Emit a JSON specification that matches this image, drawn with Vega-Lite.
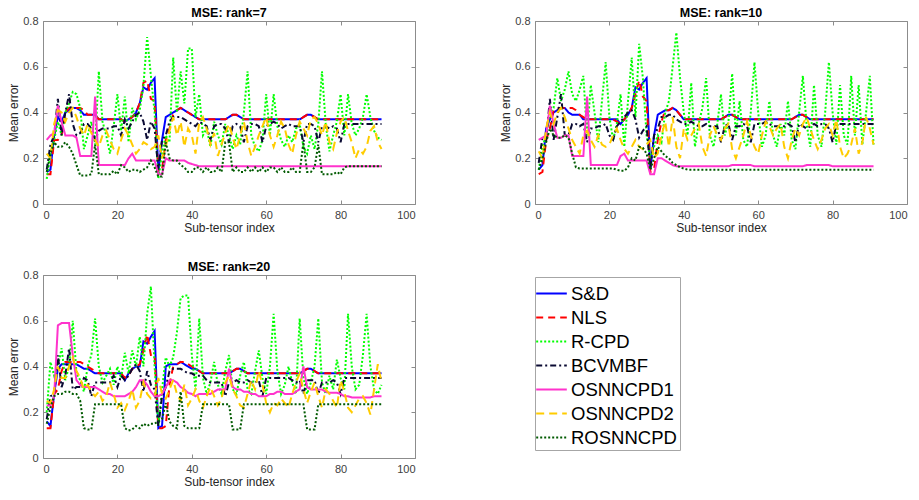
{
"$schema": "https://vega.github.io/schema/vega-lite/v6.json",
"background": "white",
"padding": {"left": 7, "top": 6, "right": 5, "bottom": 5},
"spacing": 26,
"config": {
"font": "Liberation Sans",
"view": {"stroke": "#8c8c8c", "strokeWidth": 1},
"axis": {"grid": false, "domain": false, "ticks": true, "tickSize": -4, "tickColor": "#8c8c8c", "labelFont": "Liberation Sans", "labelFontSize": 11, "labelColor": "#404040", "labelPadding": 9, "titleFont": "Liberation Sans", "titleFontSize": 12, "titleFontWeight": "normal", "titleColor": "#262626"},
"axisY": {"titlePadding": 2},
"axisX": {"titlePadding": 2},
"title": {"font": "Liberation Sans", "fontSize": 12.5, "fontWeight": "bold", "color": "#000000", "offset": -4},
"legend": {"orient": "none", "legendX": 492, "legendY": 256, "symbolType": "M-1.25,0H1.25", "symbolSize": 600, "symbolStrokeWidth": 2, "labelFont": "Liberation Sans", "labelFontSize": 18.5, "labelColor": "#000000", "strokeColor": "#a6a6a6", "fillColor": "white", "padding": 3, "rowPadding": 1, "labelOffset": 6}
},
"datasets": {
"r7": [
{"x":1,"a":0.14,"b":0.13,"c":0.11,"d":0.15,"e":0.28,"f":0.22,"g":0.14},
{"x":2,"a":0.15,"b":0.13,"c":0.22,"d":0.26,"e":0.30,"f":0.20,"g":0.22},
{"x":3,"a":0.30,"b":0.28,"c":0.28,"d":0.30,"e":0.31,"f":0.35,"g":0.27},
{"x":4,"a":0.38,"b":0.28,"c":0.36,"d":0.46,"e":0.43,"f":0.41,"g":0.25},
{"x":5,"a":0.36,"b":0.30,"c":0.30,"d":0.30,"e":0.36,"f":0.40,"g":0.25},
{"x":6,"a":0.40,"b":0.40,"c":0.40,"d":0.40,"e":0.30,"f":0.36,"g":0.27},
{"x":7,"a":0.41,"b":0.42,"c":0.44,"d":0.48,"e":0.30,"f":0.40,"g":0.25},
{"x":8,"a":0.42,"b":0.42,"c":0.49,"d":0.35,"e":0.30,"f":0.42,"g":0.22},
{"x":9,"a":0.42,"b":0.42,"c":0.48,"d":0.30,"e":0.29,"f":0.38,"g":0.17},
{"x":10,"a":0.41,"b":0.42,"c":0.42,"d":0.31,"e":0.21,"f":0.33,"g":0.125},
{"x":11,"a":0.39,"b":0.41,"c":0.24,"d":0.35,"e":0.21,"f":0.30,"g":0.125},
{"x":12,"a":0.39,"b":0.39,"c":0.30,"d":0.35,"e":0.21,"f":0.35,"g":0.125},
{"x":13,"a":0.39,"b":0.39,"c":0.36,"d":0.33,"e":0.21,"f":0.31,"g":0.13},
{"x":14,"a":0.39,"b":0.39,"c":0.26,"d":0.28,"e":0.47,"f":0.28,"g":0.26},
{"x":15,"a":0.37,"b":0.37,"c":0.58,"d":0.32,"e":0.17,"f":0.25,"g":0.13},
{"x":16,"a":0.37,"b":0.37,"c":0.36,"d":0.33,"e":0.17,"f":0.30,"g":0.13},
{"x":17,"a":0.37,"b":0.37,"c":0.30,"d":0.33,"e":0.17,"f":0.32,"g":0.13},
{"x":18,"a":0.37,"b":0.37,"c":0.22,"d":0.33,"e":0.17,"f":0.28,"g":0.13},
{"x":19,"a":0.37,"b":0.37,"c":0.34,"d":0.34,"e":0.17,"f":0.24,"g":0.145},
{"x":20,"a":0.37,"b":0.37,"c":0.48,"d":0.34,"e":0.17,"f":0.22,"g":0.13},
{"x":21,"a":0.37,"b":0.37,"c":0.32,"d":0.30,"e":0.17,"f":0.28,"g":0.17},
{"x":22,"a":0.36,"b":0.36,"c":0.47,"d":0.37,"e":0.17,"f":0.33,"g":0.16},
{"x":23,"a":0.37,"b":0.37,"c":0.27,"d":0.33,"e":0.20,"f":0.30,"g":0.14},
{"x":24,"a":0.38,"b":0.38,"c":0.42,"d":0.36,"e":0.22,"f":0.26,"g":0.15},
{"x":25,"a":0.40,"b":0.40,"c":0.37,"d":0.39,"e":0.19,"f":0.22,"g":0.15},
{"x":26,"a":0.44,"b":0.44,"c":0.41,"d":0.40,"e":0.19,"f":0.24,"g":0.14},
{"x":27,"a":0.51,"b":0.53,"c":0.52,"d":0.36,"e":0.19,"f":0.27,"g":0.15},
{"x":28,"a":0.50,"b":0.54,"c":0.73,"d":0.28,"e":0.19,"f":0.26,"g":0.16},
{"x":29,"a":0.53,"b":0.46,"c":0.56,"d":0.36,"e":0.19,"f":0.24,"g":0.19},
{"x":30,"a":0.55,"b":0.45,"c":0.40,"d":0.33,"e":0.19,"f":0.25,"g":0.16},
{"x":31,"a":0.14,"b":0.14,"c":0.11,"d":0.15,"e":0.13,"f":0.30,"g":0.12},
{"x":32,"a":0.28,"b":0.15,"c":0.22,"d":0.28,"e":0.13,"f":0.20,"g":0.12},
{"x":33,"a":0.38,"b":0.28,"c":0.30,"d":0.30,"e":0.20,"f":0.25,"g":0.27},
{"x":34,"a":0.39,"b":0.33,"c":0.27,"d":0.36,"e":0.19,"f":0.32,"g":0.20},
{"x":35,"a":0.40,"b":0.39,"c":0.64,"d":0.38,"e":0.19,"f":0.38,"g":0.19},
{"x":36,"a":0.41,"b":0.41,"c":0.40,"d":0.38,"e":0.19,"f":0.30,"g":0.19},
{"x":37,"a":0.42,"b":0.42,"c":0.58,"d":0.38,"e":0.19,"f":0.36,"g":0.17},
{"x":38,"a":0.41,"b":0.41,"c":0.44,"d":0.37,"e":0.19,"f":0.25,"g":0.16},
{"x":39,"a":0.40,"b":0.40,"c":0.68,"d":0.36,"e":0.18,"f":0.33,"g":0.14},
{"x":40,"a":0.39,"b":0.39,"c":0.68,"d":0.35,"e":0.175,"f":0.30,"g":0.14},
{"x":41,"a":0.38,"b":0.38,"c":0.38,"d":0.34,"e":0.17,"f":0.22,"g":0.16},
{"x":42,"a":0.37,"b":0.37,"c":0.48,"d":0.36,"e":0.165,"f":0.36,"g":0.16},
{"x":43,"a":0.37,"b":0.37,"c":0.30,"d":0.35,"e":0.165,"f":0.38,"g":0.14},
{"x":44,"a":0.37,"b":0.37,"c":0.33,"d":0.34,"e":0.165,"f":0.33,"g":0.16},
{"x":45,"a":0.37,"b":0.37,"c":0.25,"d":0.28,"e":0.165,"f":0.26,"g":0.14},
{"x":46,"a":0.37,"b":0.37,"c":0.36,"d":0.34,"e":0.165,"f":0.31,"g":0.14},
{"x":47,"a":0.37,"b":0.37,"c":0.30,"d":0.35,"e":0.165,"f":0.21,"g":0.16},
{"x":48,"a":0.37,"b":0.37,"c":0.26,"d":0.35,"e":0.165,"f":0.26,"g":0.14},
{"x":49,"a":0.37,"b":0.37,"c":0.35,"d":0.33,"e":0.165,"f":0.31,"g":0.27},
{"x":50,"a":0.38,"b":0.38,"c":0.30,"d":0.27,"e":0.165,"f":0.35,"g":0.27},
{"x":51,"a":0.39,"b":0.39,"c":0.24,"d":0.34,"e":0.165,"f":0.29,"g":0.14},
{"x":52,"a":0.39,"b":0.39,"c":0.30,"d":0.35,"e":0.165,"f":0.24,"g":0.16},
{"x":53,"a":0.38,"b":0.38,"c":0.26,"d":0.34,"e":0.165,"f":0.30,"g":0.14},
{"x":54,"a":0.37,"b":0.37,"c":0.40,"d":0.27,"e":0.165,"f":0.36,"g":0.14},
{"x":55,"a":0.37,"b":0.37,"c":0.58,"d":0.34,"e":0.165,"f":0.27,"g":0.16},
{"x":56,"a":0.37,"b":0.37,"c":0.30,"d":0.35,"e":0.165,"f":0.21,"g":0.14},
{"x":57,"a":0.37,"b":0.37,"c":0.25,"d":0.35,"e":0.165,"f":0.25,"g":0.16},
{"x":58,"a":0.37,"b":0.37,"c":0.23,"d":0.34,"e":0.165,"f":0.30,"g":0.14},
{"x":59,"a":0.37,"b":0.37,"c":0.28,"d":0.27,"e":0.165,"f":0.34,"g":0.16},
{"x":60,"a":0.37,"b":0.37,"c":0.48,"d":0.34,"e":0.165,"f":0.38,"g":0.14},
{"x":61,"a":0.37,"b":0.37,"c":0.30,"d":0.35,"e":0.165,"f":0.30,"g":0.16},
{"x":62,"a":0.37,"b":0.37,"c":0.48,"d":0.36,"e":0.165,"f":0.25,"g":0.16},
{"x":63,"a":0.37,"b":0.37,"c":0.34,"d":0.35,"e":0.165,"f":0.30,"g":0.14},
{"x":64,"a":0.37,"b":0.37,"c":0.28,"d":0.33,"e":0.165,"f":0.36,"g":0.16},
{"x":65,"a":0.37,"b":0.37,"c":0.25,"d":0.34,"e":0.165,"f":0.33,"g":0.14},
{"x":66,"a":0.37,"b":0.37,"c":0.30,"d":0.35,"e":0.165,"f":0.26,"g":0.14},
{"x":67,"a":0.37,"b":0.37,"c":0.27,"d":0.34,"e":0.165,"f":0.22,"g":0.16},
{"x":68,"a":0.37,"b":0.37,"c":0.33,"d":0.34,"e":0.165,"f":0.30,"g":0.14},
{"x":69,"a":0.37,"b":0.37,"c":0.35,"d":0.34,"e":0.165,"f":0.36,"g":0.14},
{"x":70,"a":0.38,"b":0.38,"c":0.25,"d":0.27,"e":0.165,"f":0.33,"g":0.27},
{"x":71,"a":0.39,"b":0.39,"c":0.22,"d":0.35,"e":0.165,"f":0.30,"g":0.14},
{"x":72,"a":0.39,"b":0.39,"c":0.30,"d":0.35,"e":0.165,"f":0.37,"g":0.14},
{"x":73,"a":0.38,"b":0.38,"c":0.24,"d":0.34,"e":0.165,"f":0.38,"g":0.16},
{"x":74,"a":0.37,"b":0.37,"c":0.35,"d":0.27,"e":0.165,"f":0.35,"g":0.26},
{"x":75,"a":0.37,"b":0.37,"c":0.58,"d":0.34,"e":0.165,"f":0.30,"g":0.13},
{"x":76,"a":0.37,"b":0.37,"c":0.35,"d":0.34,"e":0.165,"f":0.36,"g":0.13},
{"x":77,"a":0.37,"b":0.37,"c":0.23,"d":0.33,"e":0.165,"f":0.27,"g":0.13},
{"x":78,"a":0.37,"b":0.37,"c":0.30,"d":0.34,"e":0.165,"f":0.24,"g":0.13},
{"x":79,"a":0.37,"b":0.37,"c":0.36,"d":0.33,"e":0.165,"f":0.31,"g":0.14},
{"x":80,"a":0.37,"b":0.37,"c":0.48,"d":0.27,"e":0.165,"f":0.36,"g":0.13},
{"x":81,"a":0.37,"b":0.37,"c":0.30,"d":0.35,"e":0.165,"f":0.38,"g":0.16},
{"x":82,"a":0.37,"b":0.37,"c":0.48,"d":0.35,"e":0.165,"f":0.32,"g":0.165},
{"x":83,"a":0.37,"b":0.37,"c":0.35,"d":0.35,"e":0.165,"f":0.27,"g":0.165},
{"x":84,"a":0.37,"b":0.37,"c":0.30,"d":0.35,"e":0.165,"f":0.20,"g":0.165},
{"x":85,"a":0.37,"b":0.37,"c":0.33,"d":0.35,"e":0.165,"f":0.24,"g":0.165},
{"x":86,"a":0.37,"b":0.37,"c":0.38,"d":0.35,"e":0.165,"f":0.22,"g":0.165},
{"x":87,"a":0.37,"b":0.37,"c":0.48,"d":0.35,"e":0.165,"f":0.25,"g":0.165},
{"x":88,"a":0.37,"b":0.37,"c":0.38,"d":0.35,"e":0.165,"f":0.32,"g":0.165},
{"x":89,"a":0.37,"b":0.37,"c":0.32,"d":0.35,"e":0.165,"f":0.34,"g":0.165},
{"x":90,"a":0.37,"b":0.37,"c":0.29,"d":0.35,"e":0.165,"f":0.27,"g":0.165},
{"x":91,"a":0.37,"b":0.37,"c":0.28,"d":0.35,"e":0.165,"f":0.24,"g":0.165}
],
"r10": [
{"x":1,"a":0.15,"b":0.13,"c":0.15,"d":0.18,"e":0.28,"f":0.23,"g":0.15},
{"x":2,"a":0.17,"b":0.14,"c":0.25,"d":0.29,"e":0.29,"f":0.20,"g":0.20},
{"x":3,"a":0.33,"b":0.28,"c":0.30,"d":0.28,"e":0.30,"f":0.33,"g":0.27},
{"x":4,"a":0.37,"b":0.33,"c":0.40,"d":0.46,"e":0.43,"f":0.40,"g":0.33},
{"x":5,"a":0.40,"b":0.41,"c":0.42,"d":0.28,"e":0.35,"f":0.35,"g":0.30},
{"x":6,"a":0.41,"b":0.42,"c":0.55,"d":0.38,"e":0.29,"f":0.40,"g":0.29},
{"x":7,"a":0.42,"b":0.42,"c":0.45,"d":0.48,"e":0.29,"f":0.42,"g":0.29},
{"x":8,"a":0.42,"b":0.42,"c":0.50,"d":0.30,"e":0.30,"f":0.38,"g":0.30},
{"x":9,"a":0.40,"b":0.42,"c":0.58,"d":0.30,"e":0.30,"f":0.33,"g":0.29},
{"x":10,"a":0.39,"b":0.42,"c":0.48,"d":0.35,"e":0.21,"f":0.28,"g":0.22},
{"x":11,"a":0.39,"b":0.41,"c":0.45,"d":0.35,"e":0.21,"f":0.25,"g":0.16},
{"x":12,"a":0.39,"b":0.39,"c":0.50,"d":0.34,"e":0.21,"f":0.22,"g":0.155},
{"x":13,"a":0.37,"b":0.38,"c":0.56,"d":0.35,"e":0.21,"f":0.30,"g":0.155},
{"x":14,"a":0.37,"b":0.37,"c":0.30,"d":0.27,"e":0.47,"f":0.32,"g":0.155},
{"x":15,"a":0.37,"b":0.37,"c":0.52,"d":0.33,"e":0.17,"f":0.28,"g":0.155},
{"x":16,"a":0.37,"b":0.37,"c":0.40,"d":0.33,"e":0.17,"f":0.25,"g":0.155},
{"x":17,"a":0.37,"b":0.37,"c":0.27,"d":0.34,"e":0.17,"f":0.30,"g":0.155},
{"x":18,"a":0.37,"b":0.37,"c":0.45,"d":0.34,"e":0.17,"f":0.26,"g":0.155},
{"x":19,"a":0.37,"b":0.37,"c":0.62,"d":0.35,"e":0.17,"f":0.25,"g":0.155},
{"x":20,"a":0.37,"b":0.37,"c":0.38,"d":0.30,"e":0.17,"f":0.26,"g":0.155},
{"x":21,"a":0.37,"b":0.37,"c":0.28,"d":0.28,"e":0.17,"f":0.30,"g":0.155},
{"x":22,"a":0.37,"b":0.36,"c":0.35,"d":0.34,"e":0.17,"f":0.33,"g":0.15},
{"x":23,"a":0.35,"b":0.35,"c":0.48,"d":0.36,"e":0.21,"f":0.28,"g":0.145},
{"x":24,"a":0.37,"b":0.37,"c":0.25,"d":0.38,"e":0.22,"f":0.24,"g":0.145},
{"x":25,"a":0.39,"b":0.39,"c":0.45,"d":0.40,"e":0.19,"f":0.22,"g":0.16},
{"x":26,"a":0.42,"b":0.42,"c":0.64,"d":0.41,"e":0.19,"f":0.25,"g":0.20},
{"x":27,"a":0.51,"b":0.48,"c":0.38,"d":0.37,"e":0.19,"f":0.28,"g":0.19},
{"x":28,"a":0.50,"b":0.54,"c":0.70,"d":0.29,"e":0.19,"f":0.25,"g":0.25},
{"x":29,"a":0.53,"b":0.47,"c":0.55,"d":0.32,"e":0.19,"f":0.24,"g":0.245},
{"x":30,"a":0.55,"b":0.45,"c":0.30,"d":0.34,"e":0.19,"f":0.26,"g":0.22},
{"x":31,"a":0.15,"b":0.14,"c":0.20,"d":0.15,"e":0.13,"f":0.28,"g":0.15},
{"x":32,"a":0.30,"b":0.15,"c":0.25,"d":0.30,"e":0.13,"f":0.20,"g":0.20},
{"x":33,"a":0.39,"b":0.28,"c":0.30,"d":0.33,"e":0.20,"f":0.22,"g":0.25},
{"x":34,"a":0.40,"b":0.36,"c":0.27,"d":0.38,"e":0.20,"f":0.30,"g":0.23},
{"x":35,"a":0.41,"b":0.41,"c":0.40,"d":0.38,"e":0.19,"f":0.36,"g":0.21},
{"x":36,"a":0.41,"b":0.41,"c":0.45,"d":0.39,"e":0.18,"f":0.25,"g":0.20},
{"x":37,"a":0.42,"b":0.42,"c":0.60,"d":0.39,"e":0.17,"f":0.38,"g":0.18},
{"x":38,"a":0.41,"b":0.41,"c":0.75,"d":0.37,"e":0.165,"f":0.25,"g":0.17},
{"x":39,"a":0.39,"b":0.39,"c":0.55,"d":0.36,"e":0.165,"f":0.20,"g":0.16},
{"x":40,"a":0.37,"b":0.37,"c":0.40,"d":0.35,"e":0.165,"f":0.33,"g":0.155},
{"x":41,"a":0.37,"b":0.37,"c":0.30,"d":0.35,"e":0.165,"f":0.28,"g":0.15},
{"x":42,"a":0.37,"b":0.37,"c":0.53,"d":0.36,"e":0.165,"f":0.30,"g":0.15},
{"x":43,"a":0.37,"b":0.37,"c":0.25,"d":0.35,"e":0.165,"f":0.33,"g":0.15},
{"x":44,"a":0.37,"b":0.37,"c":0.35,"d":0.34,"e":0.165,"f":0.35,"g":0.15},
{"x":45,"a":0.37,"b":0.37,"c":0.42,"d":0.34,"e":0.165,"f":0.25,"g":0.15},
{"x":46,"a":0.37,"b":0.37,"c":0.55,"d":0.35,"e":0.165,"f":0.21,"g":0.15},
{"x":47,"a":0.37,"b":0.37,"c":0.30,"d":0.34,"e":0.165,"f":0.30,"g":0.15},
{"x":48,"a":0.37,"b":0.37,"c":0.25,"d":0.34,"e":0.165,"f":0.34,"g":0.15},
{"x":49,"a":0.37,"b":0.37,"c":0.35,"d":0.34,"e":0.165,"f":0.30,"g":0.15},
{"x":50,"a":0.37,"b":0.37,"c":0.48,"d":0.27,"e":0.165,"f":0.28,"g":0.15},
{"x":51,"a":0.38,"b":0.38,"c":0.30,"d":0.34,"e":0.165,"f":0.33,"g":0.15},
{"x":52,"a":0.39,"b":0.39,"c":0.36,"d":0.35,"e":0.165,"f":0.35,"g":0.15},
{"x":53,"a":0.39,"b":0.39,"c":0.57,"d":0.28,"e":0.17,"f":0.24,"g":0.15},
{"x":54,"a":0.38,"b":0.38,"c":0.30,"d":0.34,"e":0.17,"f":0.20,"g":0.15},
{"x":55,"a":0.37,"b":0.37,"c":0.45,"d":0.34,"e":0.17,"f":0.25,"g":0.15},
{"x":56,"a":0.37,"b":0.37,"c":0.28,"d":0.35,"e":0.17,"f":0.30,"g":0.15},
{"x":57,"a":0.37,"b":0.37,"c":0.25,"d":0.34,"e":0.17,"f":0.36,"g":0.15},
{"x":58,"a":0.37,"b":0.37,"c":0.40,"d":0.27,"e":0.17,"f":0.30,"g":0.15},
{"x":59,"a":0.37,"b":0.37,"c":0.62,"d":0.35,"e":0.165,"f":0.25,"g":0.15},
{"x":60,"a":0.37,"b":0.37,"c":0.40,"d":0.35,"e":0.165,"f":0.22,"g":0.15},
{"x":61,"a":0.37,"b":0.37,"c":0.25,"d":0.35,"e":0.165,"f":0.30,"g":0.15},
{"x":62,"a":0.37,"b":0.37,"c":0.30,"d":0.36,"e":0.165,"f":0.36,"g":0.15},
{"x":63,"a":0.37,"b":0.37,"c":0.45,"d":0.35,"e":0.165,"f":0.34,"g":0.15},
{"x":64,"a":0.37,"b":0.37,"c":0.30,"d":0.34,"e":0.165,"f":0.30,"g":0.15},
{"x":65,"a":0.37,"b":0.37,"c":0.25,"d":0.34,"e":0.165,"f":0.33,"g":0.15},
{"x":66,"a":0.37,"b":0.37,"c":0.35,"d":0.34,"e":0.165,"f":0.35,"g":0.15},
{"x":67,"a":0.37,"b":0.37,"c":0.30,"d":0.34,"e":0.165,"f":0.25,"g":0.15},
{"x":68,"a":0.37,"b":0.37,"c":0.45,"d":0.35,"e":0.165,"f":0.20,"g":0.15},
{"x":69,"a":0.37,"b":0.37,"c":0.28,"d":0.34,"e":0.165,"f":0.28,"g":0.15},
{"x":70,"a":0.38,"b":0.38,"c":0.24,"d":0.27,"e":0.165,"f":0.33,"g":0.15},
{"x":71,"a":0.39,"b":0.39,"c":0.40,"d":0.35,"e":0.165,"f":0.30,"g":0.15},
{"x":72,"a":0.39,"b":0.39,"c":0.56,"d":0.34,"e":0.165,"f":0.35,"g":0.15},
{"x":73,"a":0.38,"b":0.38,"c":0.35,"d":0.33,"e":0.17,"f":0.38,"g":0.15},
{"x":74,"a":0.37,"b":0.37,"c":0.25,"d":0.34,"e":0.17,"f":0.33,"g":0.15},
{"x":75,"a":0.37,"b":0.37,"c":0.52,"d":0.35,"e":0.17,"f":0.28,"g":0.15},
{"x":76,"a":0.37,"b":0.37,"c":0.30,"d":0.34,"e":0.17,"f":0.24,"g":0.15},
{"x":77,"a":0.37,"b":0.37,"c":0.25,"d":0.35,"e":0.17,"f":0.28,"g":0.15},
{"x":78,"a":0.37,"b":0.37,"c":0.40,"d":0.35,"e":0.17,"f":0.33,"g":0.15},
{"x":79,"a":0.37,"b":0.37,"c":0.62,"d":0.33,"e":0.17,"f":0.35,"g":0.15},
{"x":80,"a":0.37,"b":0.37,"c":0.40,"d":0.27,"e":0.165,"f":0.30,"g":0.15},
{"x":81,"a":0.37,"b":0.37,"c":0.26,"d":0.35,"e":0.165,"f":0.37,"g":0.15},
{"x":82,"a":0.37,"b":0.37,"c":0.52,"d":0.35,"e":0.165,"f":0.25,"g":0.15},
{"x":83,"a":0.37,"b":0.37,"c":0.30,"d":0.35,"e":0.165,"f":0.20,"g":0.15},
{"x":84,"a":0.37,"b":0.37,"c":0.26,"d":0.35,"e":0.165,"f":0.22,"g":0.15},
{"x":85,"a":0.37,"b":0.37,"c":0.56,"d":0.35,"e":0.165,"f":0.26,"g":0.15},
{"x":86,"a":0.37,"b":0.37,"c":0.30,"d":0.35,"e":0.165,"f":0.33,"g":0.15},
{"x":87,"a":0.37,"b":0.37,"c":0.52,"d":0.35,"e":0.165,"f":0.22,"g":0.15},
{"x":88,"a":0.37,"b":0.37,"c":0.26,"d":0.35,"e":0.165,"f":0.27,"g":0.15},
{"x":89,"a":0.37,"b":0.37,"c":0.40,"d":0.35,"e":0.165,"f":0.38,"g":0.15},
{"x":90,"a":0.37,"b":0.37,"c":0.56,"d":0.35,"e":0.165,"f":0.33,"g":0.15},
{"x":91,"a":0.37,"b":0.37,"c":0.26,"d":0.35,"e":0.165,"f":0.26,"g":0.15}
],
"r20": [
{"x":1,"a":0.16,"b":0.13,"c":0.20,"d":0.17,"e":0.23,"f":0.25,"g":0.15},
{"x":2,"a":0.14,"b":0.13,"c":0.42,"d":0.27,"e":0.23,"f":0.24,"g":0.22},
{"x":3,"a":0.28,"b":0.28,"c":0.36,"d":0.28,"e":0.27,"f":0.30,"g":0.27},
{"x":4,"a":0.39,"b":0.30,"c":0.40,"d":0.45,"e":0.58,"f":0.40,"g":0.28},
{"x":5,"a":0.41,"b":0.38,"c":0.48,"d":0.31,"e":0.59,"f":0.35,"g":0.28},
{"x":6,"a":0.41,"b":0.42,"c":0.34,"d":0.36,"e":0.59,"f":0.35,"g":0.29},
{"x":7,"a":0.41,"b":0.42,"c":0.40,"d":0.48,"e":0.59,"f":0.40,"g":0.29},
{"x":8,"a":0.41,"b":0.42,"c":0.60,"d":0.30,"e":0.45,"f":0.44,"g":0.28},
{"x":9,"a":0.41,"b":0.42,"c":0.37,"d":0.31,"e":0.34,"f":0.38,"g":0.28},
{"x":10,"a":0.40,"b":0.42,"c":0.34,"d":0.31,"e":0.32,"f":0.35,"g":0.25},
{"x":11,"a":0.39,"b":0.41,"c":0.29,"d":0.35,"e":0.31,"f":0.30,"g":0.13},
{"x":12,"a":0.39,"b":0.40,"c":0.40,"d":0.34,"e":0.31,"f":0.32,"g":0.125},
{"x":13,"a":0.38,"b":0.39,"c":0.45,"d":0.27,"e":0.31,"f":0.29,"g":0.125},
{"x":14,"a":0.37,"b":0.38,"c":0.61,"d":0.33,"e":0.31,"f":0.27,"g":0.235},
{"x":15,"a":0.37,"b":0.37,"c":0.40,"d":0.33,"e":0.30,"f":0.29,"g":0.235},
{"x":16,"a":0.37,"b":0.37,"c":0.33,"d":0.33,"e":0.29,"f":0.25,"g":0.235},
{"x":17,"a":0.37,"b":0.37,"c":0.36,"d":0.33,"e":0.28,"f":0.27,"g":0.235},
{"x":18,"a":0.37,"b":0.37,"c":0.39,"d":0.33,"e":0.28,"f":0.33,"g":0.235},
{"x":19,"a":0.37,"b":0.37,"c":0.32,"d":0.36,"e":0.27,"f":0.28,"g":0.235},
{"x":20,"a":0.37,"b":0.37,"c":0.40,"d":0.31,"e":0.27,"f":0.22,"g":0.235},
{"x":21,"a":0.37,"b":0.37,"c":0.35,"d":0.36,"e":0.27,"f":0.24,"g":0.235},
{"x":22,"a":0.34,"b":0.35,"c":0.46,"d":0.34,"e":0.27,"f":0.21,"g":0.13},
{"x":23,"a":0.37,"b":0.36,"c":0.37,"d":0.36,"e":0.28,"f":0.25,"g":0.12},
{"x":24,"a":0.39,"b":0.39,"c":0.47,"d":0.39,"e":0.29,"f":0.30,"g":0.125},
{"x":25,"a":0.40,"b":0.40,"c":0.40,"d":0.41,"e":0.31,"f":0.22,"g":0.14},
{"x":26,"a":0.40,"b":0.41,"c":0.53,"d":0.38,"e":0.34,"f":0.25,"g":0.13},
{"x":27,"a":0.51,"b":0.47,"c":0.40,"d":0.29,"e":0.34,"f":0.33,"g":0.15},
{"x":28,"a":0.50,"b":0.54,"c":0.63,"d":0.38,"e":0.32,"f":0.28,"g":0.14},
{"x":29,"a":0.53,"b":0.45,"c":0.75,"d":0.32,"e":0.29,"f":0.26,"g":0.15},
{"x":30,"a":0.555,"b":0.45,"c":0.40,"d":0.30,"e":0.27,"f":0.27,"g":0.15},
{"x":31,"a":0.13,"b":0.13,"c":0.14,"d":0.14,"e":0.27,"f":0.35,"g":0.16},
{"x":32,"a":0.14,"b":0.13,"c":0.30,"d":0.27,"e":0.28,"f":0.28,"g":0.17},
{"x":33,"a":0.40,"b":0.14,"c":0.44,"d":0.31,"e":0.31,"f":0.26,"g":0.24},
{"x":34,"a":0.41,"b":0.32,"c":0.40,"d":0.38,"e":0.34,"f":0.30,"g":0.16},
{"x":35,"a":0.41,"b":0.40,"c":0.44,"d":0.39,"e":0.34,"f":0.34,"g":0.14},
{"x":36,"a":0.41,"b":0.41,"c":0.55,"d":0.39,"e":0.33,"f":0.28,"g":0.13},
{"x":37,"a":0.42,"b":0.42,"c":0.70,"d":0.39,"e":0.31,"f":0.25,"g":0.29},
{"x":38,"a":0.41,"b":0.42,"c":0.71,"d":0.38,"e":0.30,"f":0.32,"g":0.14},
{"x":39,"a":0.40,"b":0.41,"c":0.71,"d":0.37,"e":0.285,"f":0.23,"g":0.13},
{"x":40,"a":0.39,"b":0.40,"c":0.45,"d":0.37,"e":0.28,"f":0.26,"g":0.13},
{"x":41,"a":0.39,"b":0.39,"c":0.30,"d":0.36,"e":0.27,"f":0.30,"g":0.13},
{"x":42,"a":0.38,"b":0.38,"c":0.61,"d":0.36,"e":0.28,"f":0.25,"g":0.13},
{"x":43,"a":0.37,"b":0.37,"c":0.35,"d":0.36,"e":0.28,"f":0.22,"g":0.235},
{"x":44,"a":0.37,"b":0.37,"c":0.28,"d":0.34,"e":0.28,"f":0.27,"g":0.235},
{"x":45,"a":0.37,"b":0.37,"c":0.33,"d":0.33,"e":0.28,"f":0.31,"g":0.235},
{"x":46,"a":0.37,"b":0.37,"c":0.42,"d":0.33,"e":0.29,"f":0.27,"g":0.235},
{"x":47,"a":0.37,"b":0.37,"c":0.32,"d":0.33,"e":0.30,"f":0.23,"g":0.235},
{"x":48,"a":0.37,"b":0.37,"c":0.28,"d":0.33,"e":0.30,"f":0.26,"g":0.235},
{"x":49,"a":0.37,"b":0.37,"c":0.38,"d":0.27,"e":0.30,"f":0.33,"g":0.235},
{"x":50,"a":0.37,"b":0.37,"c":0.45,"d":0.33,"e":0.39,"f":0.36,"g":0.235},
{"x":51,"a":0.38,"b":0.38,"c":0.30,"d":0.33,"e":0.31,"f":0.30,"g":0.125},
{"x":52,"a":0.39,"b":0.39,"c":0.28,"d":0.34,"e":0.30,"f":0.27,"g":0.125},
{"x":53,"a":0.39,"b":0.39,"c":0.36,"d":0.33,"e":0.30,"f":0.23,"g":0.125},
{"x":54,"a":0.38,"b":0.38,"c":0.42,"d":0.33,"e":0.29,"f":0.22,"g":0.235},
{"x":55,"a":0.37,"b":0.37,"c":0.30,"d":0.34,"e":0.29,"f":0.28,"g":0.235},
{"x":56,"a":0.37,"b":0.37,"c":0.28,"d":0.33,"e":0.28,"f":0.34,"g":0.235},
{"x":57,"a":0.37,"b":0.37,"c":0.38,"d":0.33,"e":0.28,"f":0.30,"g":0.235},
{"x":58,"a":0.37,"b":0.37,"c":0.47,"d":0.34,"e":0.27,"f":0.38,"g":0.235},
{"x":59,"a":0.37,"b":0.37,"c":0.35,"d":0.27,"e":0.27,"f":0.32,"g":0.235},
{"x":60,"a":0.37,"b":0.37,"c":0.28,"d":0.35,"e":0.27,"f":0.24,"g":0.235},
{"x":61,"a":0.37,"b":0.37,"c":0.40,"d":0.35,"e":0.28,"f":0.20,"g":0.235},
{"x":62,"a":0.37,"b":0.37,"c":0.63,"d":0.35,"e":0.28,"f":0.24,"g":0.235},
{"x":63,"a":0.37,"b":0.37,"c":0.38,"d":0.35,"e":0.29,"f":0.23,"g":0.235},
{"x":64,"a":0.37,"b":0.37,"c":0.28,"d":0.35,"e":0.29,"f":0.26,"g":0.235},
{"x":65,"a":0.37,"b":0.37,"c":0.32,"d":0.35,"e":0.28,"f":0.24,"g":0.235},
{"x":66,"a":0.37,"b":0.37,"c":0.40,"d":0.35,"e":0.28,"f":0.22,"g":0.235},
{"x":67,"a":0.37,"b":0.37,"c":0.33,"d":0.34,"e":0.28,"f":0.28,"g":0.235},
{"x":68,"a":0.37,"b":0.37,"c":0.28,"d":0.33,"e":0.29,"f":0.33,"g":0.235},
{"x":69,"a":0.37,"b":0.37,"c":0.61,"d":0.34,"e":0.30,"f":0.37,"g":0.235},
{"x":70,"a":0.38,"b":0.38,"c":0.35,"d":0.28,"e":0.40,"f":0.30,"g":0.235},
{"x":71,"a":0.39,"b":0.39,"c":0.28,"d":0.34,"e":0.31,"f":0.24,"g":0.125},
{"x":72,"a":0.39,"b":0.39,"c":0.33,"d":0.34,"e":0.30,"f":0.29,"g":0.125},
{"x":73,"a":0.38,"b":0.38,"c":0.40,"d":0.34,"e":0.30,"f":0.33,"g":0.125},
{"x":74,"a":0.37,"b":0.37,"c":0.61,"d":0.28,"e":0.30,"f":0.27,"g":0.235},
{"x":75,"a":0.37,"b":0.37,"c":0.33,"d":0.33,"e":0.30,"f":0.22,"g":0.235},
{"x":76,"a":0.37,"b":0.37,"c":0.28,"d":0.33,"e":0.29,"f":0.30,"g":0.235},
{"x":77,"a":0.37,"b":0.37,"c":0.36,"d":0.33,"e":0.285,"f":0.28,"g":0.235},
{"x":78,"a":0.37,"b":0.37,"c":0.30,"d":0.34,"e":0.285,"f":0.25,"g":0.235},
{"x":79,"a":0.37,"b":0.37,"c":0.43,"d":0.33,"e":0.285,"f":0.22,"g":0.235},
{"x":80,"a":0.37,"b":0.37,"c":0.35,"d":0.28,"e":0.28,"f":0.34,"g":0.235},
{"x":81,"a":0.37,"b":0.37,"c":0.30,"d":0.35,"e":0.27,"f":0.29,"g":0.235},
{"x":82,"a":0.37,"b":0.37,"c":0.63,"d":0.35,"e":0.27,"f":0.22,"g":0.235},
{"x":83,"a":0.37,"b":0.37,"c":0.40,"d":0.35,"e":0.265,"f":0.20,"g":0.235},
{"x":84,"a":0.37,"b":0.37,"c":0.30,"d":0.35,"e":0.265,"f":0.23,"g":0.235},
{"x":85,"a":0.37,"b":0.37,"c":0.32,"d":0.35,"e":0.265,"f":0.26,"g":0.235},
{"x":86,"a":0.37,"b":0.37,"c":0.45,"d":0.35,"e":0.265,"f":0.27,"g":0.235},
{"x":87,"a":0.37,"b":0.37,"c":0.63,"d":0.35,"e":0.265,"f":0.24,"g":0.235},
{"x":88,"a":0.37,"b":0.37,"c":0.40,"d":0.35,"e":0.265,"f":0.19,"g":0.235},
{"x":89,"a":0.37,"b":0.37,"c":0.30,"d":0.35,"e":0.27,"f":0.30,"g":0.235},
{"x":90,"a":0.37,"b":0.37,"c":0.28,"d":0.35,"e":0.27,"f":0.41,"g":0.235},
{"x":91,"a":0.37,"b":0.37,"c":0.32,"d":0.35,"e":0.27,"f":0.33,"g":0.235}
]
},
"vconcat": [
{"hconcat": [
{"width": 372, "height": 183, "title": "MSE: rank=7", "data": {"name": "r7"},
"transform": [{"fold": ["a","b","c","d","e","f","g"], "as": ["m","v"]}],
"resolve": {"axis": {"x": "independent", "y": "independent"}},
"layer": [
{"mark": {"type": "line", "strokeWidth": 2},
"encoding": {
"x": {"field": "x", "type": "quantitative", "scale": {"domain": [0,100]}, "axis": {"values": [0,20,40,60,80,100], "title": "Sub-tensor index"}},
"y": {"field": "v", "type": "quantitative", "scale": {"domain": [0,0.8]}, "axis": {"values": [0,0.2,0.4,0.6,0.8], "format": "~g", "title": "Mean error"}},
"color": {"field": "m", "type": "nominal", "scale": {"domain": ["a","b","c","d","e","f","g"], "range": ["#0000ff","#ff0000","#00ff00","#0a0a33","#ff33cc","#ffcc00","#005a00"]}, "legend": {"title": null, "labelExpr": "datum.label=='a'?'S&D':datum.label=='b'?'NLS':datum.label=='c'?'R-CPD':datum.label=='d'?'BCVMBF':datum.label=='e'?'OSNNCPD1':datum.label=='f'?'OSNNCPD2':'ROSNNCPD'"}},
"strokeDash": {"field": "m", "type": "nominal", "scale": {"domain": ["a","b","c","d","e","f","g"], "range": [[1,0],[7,5],[2,2],[6,3,2,3],[1,0],[8,5],[2,2]]}, "legend": {"title": null, "labelExpr": "datum.label=='a'?'S&D':datum.label=='b'?'NLS':datum.label=='c'?'R-CPD':datum.label=='d'?'BCVMBF':datum.label=='e'?'OSNNCPD1':datum.label=='f'?'OSNNCPD2':'ROSNNCPD'"}}
}},
{"mark": {"type": "line", "opacity": 0},
"encoding": {
"x": {"field": "x", "type": "quantitative", "scale": {"domain": [0,100]}, "axis": {"orient": "top", "labels": false, "title": null, "values": [0,20,40,60,80,100]}},
"y": {"field": "v", "type": "quantitative", "scale": {"domain": [0,0.8]}, "axis": {"orient": "right", "labels": false, "title": null, "values": [0,0.2,0.4,0.6,0.8]}},
"detail": {"field": "m"}
}}
]},
{"width": 372, "height": 183, "title": "MSE: rank=10", "data": {"name": "r10"},
"transform": [{"fold": ["a","b","c","d","e","f","g"], "as": ["m","v"]}],
"resolve": {"axis": {"x": "independent", "y": "independent"}},
"layer": [
{"mark": {"type": "line", "strokeWidth": 2},
"encoding": {
"x": {"field": "x", "type": "quantitative", "scale": {"domain": [0,100]}, "axis": {"values": [0,20,40,60,80,100], "title": "Sub-tensor index"}},
"y": {"field": "v", "type": "quantitative", "scale": {"domain": [0,0.8]}, "axis": {"values": [0,0.2,0.4,0.6,0.8], "format": "~g", "title": "Mean error"}},
"color": {"field": "m", "type": "nominal", "scale": {"domain": ["a","b","c","d","e","f","g"], "range": ["#0000ff","#ff0000","#00ff00","#0a0a33","#ff33cc","#ffcc00","#005a00"]}, "legend": {"title": null, "labelExpr": "datum.label=='a'?'S&D':datum.label=='b'?'NLS':datum.label=='c'?'R-CPD':datum.label=='d'?'BCVMBF':datum.label=='e'?'OSNNCPD1':datum.label=='f'?'OSNNCPD2':'ROSNNCPD'"}},
"strokeDash": {"field": "m", "type": "nominal", "scale": {"domain": ["a","b","c","d","e","f","g"], "range": [[1,0],[7,5],[2,2],[6,3,2,3],[1,0],[8,5],[2,2]]}, "legend": {"title": null, "labelExpr": "datum.label=='a'?'S&D':datum.label=='b'?'NLS':datum.label=='c'?'R-CPD':datum.label=='d'?'BCVMBF':datum.label=='e'?'OSNNCPD1':datum.label=='f'?'OSNNCPD2':'ROSNNCPD'"}}
}},
{"mark": {"type": "line", "opacity": 0},
"encoding": {
"x": {"field": "x", "type": "quantitative", "scale": {"domain": [0,100]}, "axis": {"orient": "top", "labels": false, "title": null, "values": [0,20,40,60,80,100]}},
"y": {"field": "v", "type": "quantitative", "scale": {"domain": [0,0.8]}, "axis": {"orient": "right", "labels": false, "title": null, "values": [0,0.2,0.4,0.6,0.8]}},
"detail": {"field": "m"}
}}
]}
], "spacing": 83},
{"hconcat": [
{"width": 372, "height": 183, "title": "MSE: rank=20", "data": {"name": "r20"},
"transform": [{"fold": ["a","b","c","d","e","f","g"], "as": ["m","v"]}],
"resolve": {"axis": {"x": "independent", "y": "independent"}},
"layer": [
{"mark": {"type": "line", "strokeWidth": 2},
"encoding": {
"x": {"field": "x", "type": "quantitative", "scale": {"domain": [0,100]}, "axis": {"values": [0,20,40,60,80,100], "title": "Sub-tensor index"}},
"y": {"field": "v", "type": "quantitative", "scale": {"domain": [0,0.8]}, "axis": {"values": [0,0.2,0.4,0.6,0.8], "format": "~g", "title": "Mean error"}},
"color": {"field": "m", "type": "nominal", "scale": {"domain": ["a","b","c","d","e","f","g"], "range": ["#0000ff","#ff0000","#00ff00","#0a0a33","#ff33cc","#ffcc00","#005a00"]}, "legend": {"title": null, "labelExpr": "datum.label=='a'?'S&D':datum.label=='b'?'NLS':datum.label=='c'?'R-CPD':datum.label=='d'?'BCVMBF':datum.label=='e'?'OSNNCPD1':datum.label=='f'?'OSNNCPD2':'ROSNNCPD'"}},
"strokeDash": {"field": "m", "type": "nominal", "scale": {"domain": ["a","b","c","d","e","f","g"], "range": [[1,0],[7,5],[2,2],[6,3,2,3],[1,0],[8,5],[2,2]]}, "legend": {"title": null, "labelExpr": "datum.label=='a'?'S&D':datum.label=='b'?'NLS':datum.label=='c'?'R-CPD':datum.label=='d'?'BCVMBF':datum.label=='e'?'OSNNCPD1':datum.label=='f'?'OSNNCPD2':'ROSNNCPD'"}}
}},
{"mark": {"type": "line", "opacity": 0},
"encoding": {
"x": {"field": "x", "type": "quantitative", "scale": {"domain": [0,100]}, "axis": {"orient": "top", "labels": false, "title": null, "values": [0,20,40,60,80,100]}},
"y": {"field": "v", "type": "quantitative", "scale": {"domain": [0,0.8]}, "axis": {"orient": "right", "labels": false, "title": null, "values": [0,0.2,0.4,0.6,0.8]}},
"detail": {"field": "m"}
}}
]}
]}
]
}
